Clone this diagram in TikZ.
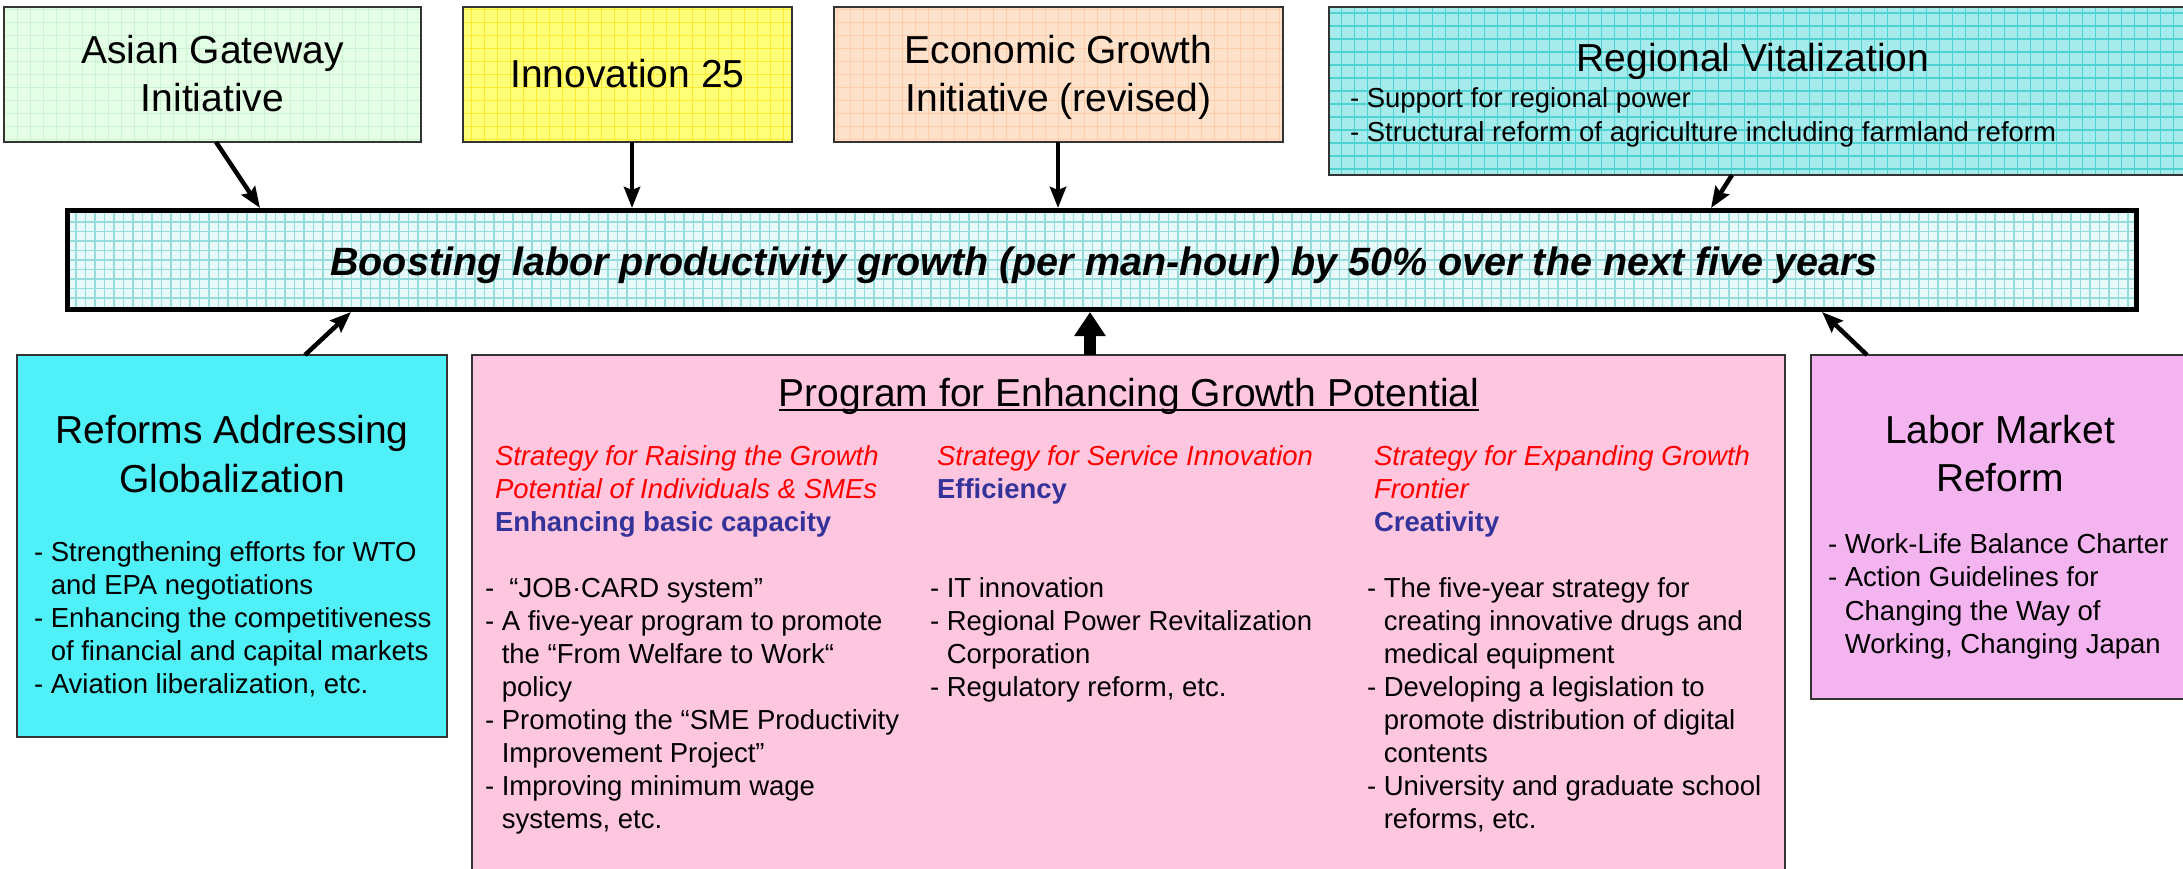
\documentclass[tikz,border=0pt]{standalone}
\usepackage{fontspec}
\setmainfont{Liberation Sans}
\usetikzlibrary{arrows.meta}
\definecolor{boxline}{HTML}{333333}
\definecolor{asianfill}{HTML}{E4FFE6}
\definecolor{asiangrid}{HTML}{C8F4D2}
\definecolor{innovfill}{HTML}{FFFF78}
\definecolor{innovgrid}{HTML}{FFEA30}
\definecolor{econfill}{HTML}{FFE2CC}
\definecolor{econgrid}{HTML}{FFCDAA}
\definecolor{regfill}{HTML}{A6EBEB}
\definecolor{reggrid}{HTML}{4FD2D2}
\definecolor{mainfill}{HTML}{E8F9F9}
\definecolor{maingrid}{HTML}{96DCDC}
\definecolor{reffill}{HTML}{50F0F8}
\definecolor{progfill}{HTML}{FFC6DF}
\definecolor{labfill}{HTML}{F4B4F0}
\definecolor{stratred}{HTML}{FF0000}
\definecolor{stratblue}{HTML}{333399}
\newcommand{\blk}[1]{\begin{tabular}[t]{@{}l@{}}#1\end{tabular}}
\newcommand{\blkc}[1]{\begin{tabular}[t]{@{}c@{}}#1\end{tabular}}
\newcommand{\ttlfont}{\fontsize{39}{48}\selectfont}
\newcommand{\bulfont}{\fontsize{27.5}{33.1}\selectfont}
\newcommand{\ind}{\phantom{- }}
\begin{document}
\begin{tikzpicture}[x=1pt,y=-1pt,
  box/.style={draw=boxline, line width=2pt, inner sep=0pt, outer sep=0pt},
  gridfill/.style 2 args={path picture={\draw[#1, line width=1.2pt, step=#2] (path picture bounding box.south west) grid (path picture bounding box.north east);}},
  txt/.style={inner sep=0pt, outer sep=0pt},
  arr/.style={line width=4.5pt, -{Stealth[length=21pt,width=16pt,inset=3pt]}},
  bigarr/.style={line width=12pt, -{Triangle[length=24pt,width=30pt]}},
]
\useasboundingbox (0,0) rectangle (2183,869);
\begin{scope}
\clip (0,0) rectangle (2183,869);
% boxes
\node[box, fill=asianfill, gridfill={asiangrid}{13pt}, minimum width=417pt, minimum height=135pt] (asian) at (212.5,74.5) {};
\node[box, fill=innovfill, gridfill={innovgrid}{13pt}, minimum width=329pt, minimum height=135pt] (innov) at (627.5,74.5) {};
\node[box, fill=econfill, gridfill={econgrid}{13pt}, minimum width=449pt, minimum height=135pt] (econ) at (1058.5,74.5) {};
\node[box, fill=regfill, gridfill={reggrid}{13pt}, minimum width=857pt, minimum height=168pt] (region) at (1757.5,91) {};
\node[box, draw=black, line width=5pt, fill=mainfill, gridfill={maingrid}{9.5pt}, minimum width=2069pt, minimum height=99pt] (main) at (1102,260) {};
\node[box, fill=reffill, minimum width=430pt, minimum height=382pt] (reforms) at (232,546) {};
\node[box, fill=progfill, minimum width=1313pt, minimum height=550pt] (program) at (1128.5,630) {};
\node[box, fill=labfill, minimum width=375pt, minimum height=344pt] (labor) at (1998.5,527) {};
\end{scope}

% texts
\node[txt, anchor=base, font=\ttlfont] (asianT) at (212.5,64) {\blkc{Asian Gateway\\Initiative}};
\node[txt, anchor=base, font=\ttlfont] (innovT) at (627.5,88) {Innovation 25};
\node[txt, anchor=base, font=\ttlfont] (econT) at (1058.5,64) {\blkc{Economic Growth\\Initiative (revised)}};
\node[txt, anchor=base, font=\ttlfont] (regT) at (1753,72) {Regional Vitalization};
\node[txt, anchor=base west, font=\fontsize{27.5}{34}\selectfont] (regB) at (1350,108) {\blk{- Support for regional power\\- Structural reform of agriculture including farmland reform}};
\node[txt, anchor=base, font=\fontsize{39.5}{48}\selectfont\bfseries\itshape] (mainT) at (1104,275) {Boosting labor productivity growth (per man-hour) by 50\% over the next five years};

\node[txt, anchor=base, font=\fontsize{39}{49}\selectfont] (refT) at (232,443) {\blkc{Reforms Addressing\\Globalization}};
\node[txt, anchor=base west, font=\bulfont] (refB) at (34,561) {\blk{- Strengthening efforts for WTO\\\ind and EPA negotiations\\- Enhancing the competitiveness\\\ind of financial and capital markets\\- Aviation liberalization, etc.}};

\node[txt, anchor=base, font=\ttlfont] (progT) at (1129,406) {Program for Enhancing Growth Potential};
\draw[line width=2pt] ([yshift=-4pt]progT.base west) -- ([yshift=-4pt]progT.base east);

\node[txt, anchor=base west, font=\bulfont] (c1H) at (495,465) {\blk{{\color{stratred}\itshape Strategy for Raising the Growth}\\{\color{stratred}\itshape Potential of Individuals \& SMEs}\\{\color{stratblue}\bfseries Enhancing basic capacity}}};
\node[txt, anchor=base west, font=\bulfont] (c1B) at (485,597) {\blk{- \ “JOB·CARD system”\\- A five-year program to promote\\\ind the “From Welfare to Work“\\\ind policy\\- Promoting the “SME Productivity\\\ind Improvement Project”\\- Improving minimum wage\\\ind systems, etc.}};

\node[txt, anchor=base west, font=\bulfont] (c2H) at (937,465) {\blk{{\color{stratred}\itshape Strategy for Service Innovation}\\{\color{stratblue}\bfseries Efficiency}}};
\node[txt, anchor=base west, font=\bulfont] (c2B) at (930,597) {\blk{- IT innovation\\- Regional Power Revitalization\\\ind Corporation\\- Regulatory reform, etc.}};

\node[txt, anchor=base west, font=\bulfont] (c3H) at (1374,465) {\blk{{\color{stratred}\itshape Strategy for Expanding Growth}\\{\color{stratred}\itshape Frontier}\\{\color{stratblue}\bfseries Creativity}}};
\node[txt, anchor=base west, font=\bulfont] (c3B) at (1367,597) {\blk{- The five-year strategy for\\\ind creating innovative drugs and\\\ind medical equipment\\- Developing a legislation to\\\ind promote distribution of digital\\\ind contents\\- University and graduate school\\\ind reforms, etc.}};

\node[txt, anchor=base, font=\ttlfont] (labT) at (2000,443) {\blkc{Labor Market\\Reform}};
\node[txt, anchor=base west, font=\fontsize{27.5}{33.5}\selectfont] (labB) at (1828,553) {\blk{- Work-Life Balance Charter\\- Action Guidelines for\\\ind Changing the Way of\\\ind Working, Changing Japan}};

% connectors
\draw[arr] ([xshift=3.5pt]asian.south) -- ([xshift=-842pt,yshift=2.5pt]main.north);
\draw[arr] ([xshift=4.5pt]innov.south) -- ([xshift=-470pt,yshift=2.5pt]main.north);
\draw[arr] ([xshift=-0.5pt]econ.south) -- ([xshift=-44pt,yshift=2.5pt]main.north);
\draw[arr] ([xshift=-25.5pt]region.south) -- ([xshift=609pt,yshift=2.5pt]main.north);
\draw[arr] ([xshift=73pt]reforms.north) -- ([xshift=-751pt,yshift=-2.5pt]main.south);
\draw[bigarr] ([xshift=-38.5pt]program.north) -- ([xshift=-12pt,yshift=-2.5pt]main.south);
\draw[arr] ([xshift=-131.5pt]labor.north) -- ([xshift=720pt,yshift=-2.5pt]main.south);
\end{tikzpicture}
\end{document}
